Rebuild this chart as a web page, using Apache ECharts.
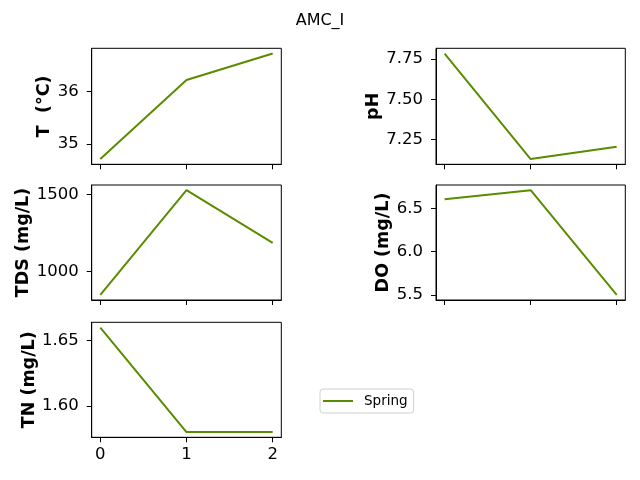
<!DOCTYPE html>
<html>
<head>
<meta charset="utf-8">
<script src="https://cdn.jsdelivr.net/npm/echarts@6/dist/echarts.min.js"></script>
<style>
  html, body { margin: 0; padding: 0; background: #fff; }
  #chart { width: 640px; height: 480px; }
</style>
</head>
<body>
<div id="chart"></div>
<script>
const xValues = [0, 1, 2];
const xTicks = [0, 1, 2];

const tempValues = [34.715, 36.217, 36.72];
const phValues = [7.785, 7.127, 7.204];
const tdsValues = [850, 1528, 1187];
const doValues = [6.61, 6.714, 5.5];
const tnValues = [1.66, 1.58, 1.58];

const tempTicks = [35, 36];
const phTicks = [7.25, 7.5, 7.75];
const tdsTicks = [1000, 1500];
const doTicks = [5.5, 6.0, 6.5];
const tnTicks = [1.6, 1.65];

const seriesName = 'Spring';
const lineColor = '#5a8c00';

// panel layout: [left, top, width, height]
const panels = [
  { name: 'T  (°C)', data: tempValues, ticks: tempTicks, fmt: v => v.toFixed(0), box: [91.7, 48.3, 189.6, 116], gap: 33, xLabels: false },
  { name: 'pH', data: phValues, ticks: phTicks, fmt: v => v.toFixed(2), box: [436, 48.3, 189.3, 116], gap: 45, xLabels: false },
  { name: 'TDS (mg/L)', data: tdsValues, ticks: tdsTicks, fmt: v => v.toFixed(0), box: [91.7, 185, 189.6, 115], gap: 51.5, xLabels: false },
  { name: 'DO (mg/L)', data: doValues, ticks: doTicks, fmt: v => v.toFixed(1), box: [436, 185, 189.3, 115], gap: 37.5, xLabels: false },
  { name: 'TN (mg/L)', data: tnValues, ticks: tnTicks, fmt: v => v.toFixed(2), box: [91.7, 322.3, 189.6, 115], gap: 47, xLabels: true }
];

// matplotlib-style 5% margins
function padRange(arr) {
  const lo = Math.min(...arr), hi = Math.max(...arr);
  const m = (hi - lo) * 0.05;
  return [lo - m, hi + m];
}

const font = 'DejaVu Sans';
const grids = [], xAxes = [], yAxes = [], series = [];

panels.forEach((p, i) => {
  grids.push({
    left: p.box[0], top: p.box[1], width: p.box[2], height: p.box[3],
    show: true, borderColor: '#000', borderWidth: 1, backgroundColor: 'transparent'
  });
  xAxes.push({
    type: 'value', gridIndex: i, min: -0.1, max: 2.1,
    axisLine: { show: true, onZero: false, lineStyle: { color: '#000' } },
    splitLine: { show: false },
    axisTick: { show: true, length: 5, inside: false, customValues: xTicks, lineStyle: { color: '#000' } },
    axisLabel: { show: p.xLabels, customValues: xTicks, margin: 9, color: '#000', fontFamily: font, fontSize: 16.5 }
  });
  const r = padRange(p.data);
  yAxes.push({
    type: 'value', gridIndex: i, min: r[0], max: r[1],
    name: p.name, nameLocation: 'middle', nameGap: p.gap,
    nameTextStyle: { color: '#000', fontFamily: font, fontSize: 17.5, fontWeight: 'bold' },
    axisLine: { show: true, onZero: false, lineStyle: { color: '#000' } },
    splitLine: { show: false },
    axisTick: { show: true, length: 5, inside: false, customValues: p.ticks, lineStyle: { color: '#000' } },
    axisLabel: { customValues: p.ticks, margin: 13, color: '#000', fontFamily: font, fontSize: 16.5, formatter: p.fmt }
  });
  series.push({
    name: seriesName, type: 'line', xAxisIndex: i, yAxisIndex: i,
    data: xValues.map((x, k) => [x, p.data[k]]),
    showSymbol: false, symbol: 'none',
    lineStyle: { color: lineColor, width: 2 },
    itemStyle: { color: lineColor },
    silent: true, animation: false
  });
});

const chart = echarts.init(document.getElementById('chart'));
chart.setOption({
  animation: false,
  title: {
    text: 'AMC_I', left: 'center', top: 8,
    textStyle: { color: '#000', fontFamily: font, fontSize: 16, fontWeight: 'normal' }
  },
  legend: {
    data: [seriesName],
    left: 320, top: 389,
    orient: 'vertical',
    icon: 'rect', itemWidth: 30, itemHeight: 2, itemGap: 4,
    padding: [5, 6, 5, 3],
    borderColor: '#d0d0d0', borderWidth: 1, borderRadius: 3,
    textStyle: { color: '#000', fontFamily: font, fontSize: 13.5, padding: [0, 0, 0, 6] }
  },
  grid: grids,
  xAxis: xAxes,
  yAxis: yAxes,
  series: series
});
</script>
</body>
</html>
